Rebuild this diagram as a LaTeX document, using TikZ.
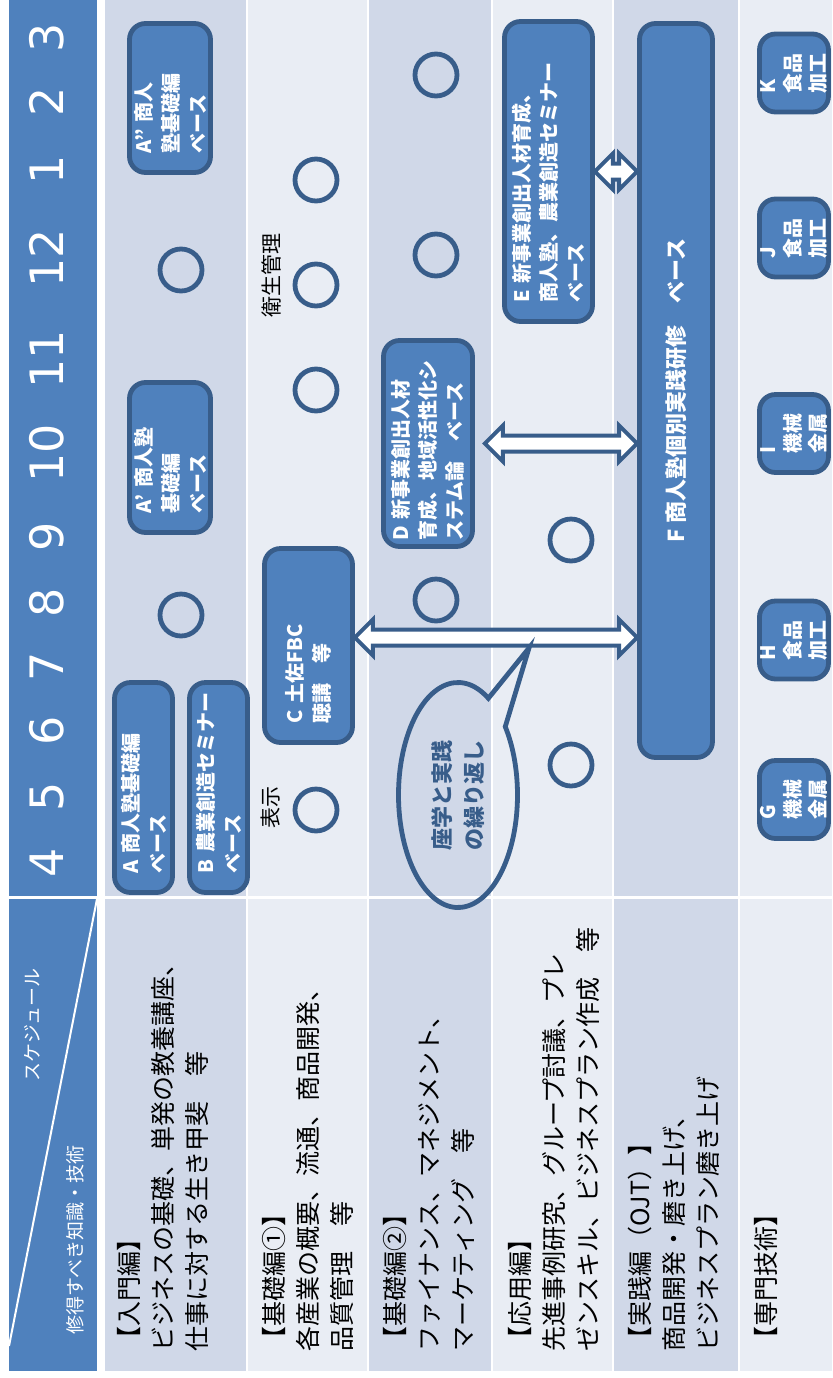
\documentclass[tikz,border=0pt]{standalone}
\usepackage{fontspec}
\setmainfont{Noto Sans CJK JP}
\newfontfamily\numfont{DejaVu Sans}
\usetikzlibrary{calc}
\definecolor{headblue}{HTML}{4F81BD}
\definecolor{edgeblue}{HTML}{385D8A}
\definecolor{rowdark}{HTML}{D0D8E8}
\definecolor{rowlight}{HTML}{E9EDF4}

% double block arrow between two points (horizontal)
\newcommand{\twoway}[2]{%
  \draw[blockarrow] let \p1=(#1), \p2=(#2) in
    (\p1) -- (\x1+9pt,\y1+9pt) -- (\x1+9pt,\y1+4pt) -- (\x2-9pt,\y2+4pt)
    -- (\x2-9pt,\y2+9pt) -- (\p2) -- (\x2-9pt,\y2-9pt) -- (\x2-9pt,\y2-4pt)
    -- (\x1+9pt,\y1-4pt) -- (\x1+9pt,\y1-9pt) -- cycle;}

\begin{document}
\begin{tikzpicture}[x=0.5pt,y=-0.5pt,
    box/.style={draw=edgeblue, line width=2.4pt, fill=headblue, rounded corners=8pt,
      rotate=90, text=white, align=left, inner xsep=9.5pt, inner ysep=1pt,
      font=\bfseries\fontsize{10}{13.5}\selectfont},
    smallbox/.style={box, minimum width=39pt, minimum height=34.5pt, text width=20pt,
      inner ysep=0pt, font=\bfseries\fontsize{10}{12.5}\selectfont},
    blockarrow/.style={draw=edgeblue, fill=white, line width=2pt},
    maru/.style={circle, draw=edgeblue, line width=2.4pt, minimum size=21pt, inner sep=0pt},
    monat/.style={rotate=90, anchor=base, text=white, inner sep=0pt,
      font=\numfont\fontsize{23}{23}\selectfont},
    desc/.style={rotate=90, anchor=west, align=left, inner sep=0pt,
      font=\fontsize{12.5}{17}\selectfont},
    note/.style={rotate=90, inner sep=0pt, font=\fontsize{10.5}{12}\selectfont},
    bubble/.style={draw=edgeblue, line width=2.4pt}]
  \useasboundingbox (0,0) rectangle (832,1378);

  % table cells
  \fill[headblue] (9,0) rectangle (97,896);
  \fill[headblue] (9,899) rectangle (97,1371);
  \foreach \xa/\xb/\c in {105/246/rowdark,248/367/rowlight,369/491/rowdark,
      493/612/rowlight,614/738/rowdark,740/832/rowlight}{
    \fill[\c] (\xa,0) rectangle (\xb,896);
    \fill[\c] (\xa,899) rectangle (\xb,1371);
  }
  \draw[white, line width=1pt] (97,899) -- (9,1346);

  % months
  \foreach \m/\y in {4/863,5/797,6/731,7/667,8/603,9/537,10/453,11/359,12/258,1/170,2/102,3/38}
    \node[monat] (m\m) at (63,\y) {\m};
  \node[rotate=90, text=white, font=\fontsize{9.5}{11}\selectfont] (sched) at (32,1025) {スケジュール};
  \node[rotate=90, text=white, font=\fontsize{9.5}{11}\selectfont] (skill) at (75,1240) {修得すべき知識・技術};

  % courses
  \node[box, minimum width=74.5pt, minimum height=40.5pt, text width=55.5pt] (A2) at (170,98) {A”~商人\\塾基礎編\\ベース};
  \node[box, minimum width=75pt, minimum height=40.5pt, text width=56pt] (A1) at (170,457.5) {A’~商人塾\\基礎編\\ベース};
  \node[box, minimum width=105pt, minimum height=29pt, text width=86pt] (A) at (143.5,787.5) {A~商人塾基礎編\\ベース};
  \node[box, minimum width=105pt, minimum height=29pt, text width=86pt] (B) at (218.5,787.5) {B~農業創造セミナー\\ベース};
  \node[box, minimum width=97pt, minimum height=44pt, text width=78pt] (C) at (308.5,645.5) {C~土佐FBC\\聴講　等};
  \node[box, minimum width=103pt, minimum height=44.5pt, inner xsep=3pt, text width=97pt] (D) at (428,443.5) {D~新事業創出人材\\育成、地域活性化シ\\ステム論　ベース};
  \node[box, minimum width=150pt, minimum height=44pt, text width=131pt] (E) at (548.5,171.5) {E~新事業創出人材育成、\\商人塾、農業創造セミナー\\ベース};
  \node[box, minimum width=367pt, minimum height=36.5pt, align=center,
    font=\bfseries\fontsize{11}{13}\selectfont] (F) at (676,390.5) {F~商人塾個別実践研修　ベース};

  \node[smallbox] (K) at (794,73) {K\\食品\\加工};
  \node[smallbox] (J) at (794,238) {J\\食品\\加工};
  \node[smallbox] (I) at (794,433.5) {I\\機械\\金属};
  \node[smallbox] (H) at (794,640) {H\\食品\\加工};
  \node[smallbox] (G) at (794,799.5) {G\\機械\\金属};

  % links to F
  \coordinate (cf) at ($(C.south)+(0,-8)$);
  \coordinate (df) at ($(D.south)+(10,0)$);
  \twoway{cf}{F.north |- cf}
  \twoway{df}{F.north |- df}
  \twoway{E.south}{F.north |- E.south}

  % marks
  \foreach \n/\p in {1/{181,270},2/{181,615},3/{316,180},4/{316,285},5/{316,390},
      6/{316,810},7/{436,75},8/{436,255},9/{436,600},10/{571,540},11/{571,765}}
    \node[maru] (k\n) at (\p) {};
  \node[note] (eisei) at (271,275) {衛生管理};
  \node[note] (hyoji) at (271,807) {表示};

  % callout
  \node[rotate=90, text=edgeblue, align=center, inner sep=0pt,
    font=\bfseries\fontsize{11}{16}\selectfont] (rep) at (458,795) {座学と実践\\の繰り返し};
  \draw[bubble] (rep.center) ++(59.3:29.75pt and 56.25pt)
    arc[start angle=59.3, end angle=397.4, x radius=29.75pt, y radius=56.25pt]
    -- ($(rep.center)+(35.5pt,73.5pt)$) -- cycle;

  % contents
  \node[desc] (t1) at (163,1352) {【入門編】\\ビジネスの基礎、単発の教養講座、\\仕事に対する生き甲斐　等};
  \node[desc] (t2) at (308,1352) {【基礎編①】\\各産業の概要、流通、商品開発、\\品質管理　等};
  \node[desc] (t3) at (429,1352) {【基礎編②】\\ファイナンス、マネジメント、\\マーケティング　等};
  \node[desc] (t4) at (554,1352) {【応用編】\\先進事例研究、グループ討議、プレ\\ゼンスキル、ビジネスプラン作成　等};
  \node[desc] (t5) at (674,1352) {【実践編（OJT）】\\商品開発・磨き上げ、\\ビジネスプラン磨き上げ};
  \node[desc] (t6) at (766,1352) {【専門技術】};
\end{tikzpicture}
\end{document}
